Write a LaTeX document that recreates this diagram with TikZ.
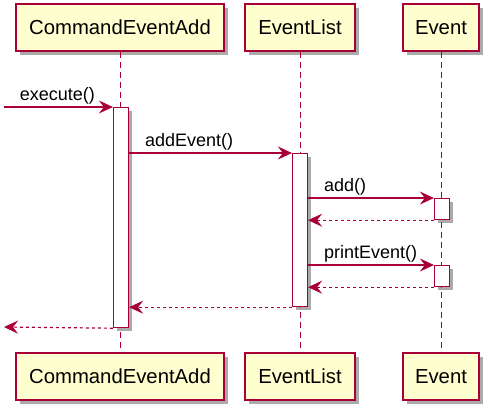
\documentclass[tikz,border=0pt]{standalone}
\usepackage{fontspec}
\setmainfont{Liberation Sans}
\usetikzlibrary{arrows.meta,shadows}
\definecolor{umlred}{HTML}{A80036}
\definecolor{umlcream}{HTML}{FEFECE}

\begin{document}
\begin{tikzpicture}[x=1pt, y=-1pt,
  actorbox/.style={draw=umlred, fill=umlcream, line width=1.2pt, minimum height=47pt,
    inner sep=0pt, font=\fontsize{20.3}{24}\selectfont,
    drop shadow={shadow xshift=4pt, shadow yshift=-4pt, fill=black!55, opacity=0.6}},
  actbar/.style={draw=umlred, fill=white, line width=1.2pt, minimum width=15pt,
    inner sep=0pt, anchor=north,
    drop shadow={shadow xshift=3pt, shadow yshift=-3pt, fill=black!55, opacity=0.6}},
  lifeline/.style={umlred, line width=1pt, dash pattern=on 6pt off 4pt},
  call/.style={umlred, line width=1.2pt, -{Stealth[length=14pt, width=13pt, inset=5pt]}},
  reply/.style={call, dash pattern=on 3pt off 3pt},
  msg/.style={pos=0, anchor=base west, xshift=12pt, yshift=7pt, text=black,
    font=\fontsize{18}{22}\selectfont}]

  % Canvas
  \useasboundingbox[fill=white] (0,0) rectangle (491,416);

  % Participants (top and bottom)
  \foreach \n/\x/\w/\t in {cmd/120/208/CommandEventAdd, list/300/110/EventList, ev/441/76/Event} {
    \node[actorbox, minimum width=\w pt] (\n Top) at (\x,27.5) {\t};
    \node[actorbox, minimum width=\w pt] (\n Bot) at (\x,376.5) {\t};
  }

  % Lifelines
  \foreach \n in {cmd, list, ev} {
    \draw[lifeline] (\n Top) -- (\n Bot);
  }

  % Activation bars
  \node[actbar, minimum height=220pt] (actCmd) at (121,107) {};
  \node[actbar, minimum height=153pt] (actList) at (300,153) {};
  \node[actbar, minimum height=21pt] (actEv1) at (442,198) {};
  \node[actbar, minimum height=21pt] (actEv2) at (442,265) {};

  % Free ends of the outer messages
  \coordinate (start) at (4,107);
  \coordinate (finish) at (4,327);

  % Messages
  \draw[call] (start) -- (actCmd.north west) node[msg] {execute()};
  \draw[call] (actCmd.east |- actList.north) -- (actList.north west) node[msg] {addEvent()};
  \draw[call] (actList.east |- actEv1.north) -- (actEv1.north west) node[msg] {add()};
  \draw[reply] (actEv1.south west) -- (actList.east |- actEv1.south);
  \draw[call] (actList.east |- actEv2.north) -- (actEv2.north west) node[msg] {printEvent()};
  \draw[reply] (actEv2.south west) -- (actList.east |- actEv2.south);
  \draw[reply] (actList.south west) -- (actCmd.east |- actList.south);
  \draw[reply] (actCmd.south west) -- (finish);

\end{tikzpicture}
\end{document}
